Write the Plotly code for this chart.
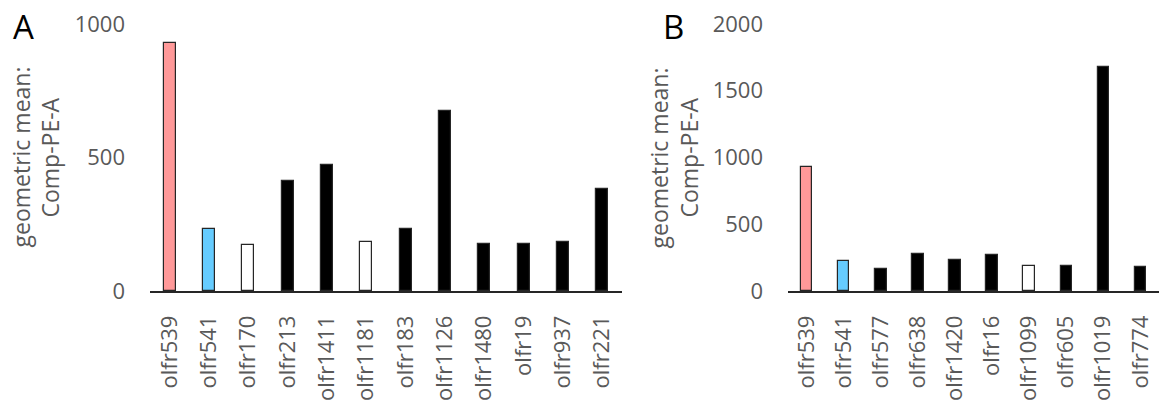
import plotly.graph_objects as go

# Panel A
cats_a = ["olfr539", "olfr541", "olfr170", "olfr213", "olfr1411", "olfr1181",
          "olfr183", "olfr1126", "olfr1480", "olfr19", "olfr937", "olfr221"]
vals_a = [927, 231, 171, 413, 473, 183, 233, 675, 176, 176, 183, 383]
group_a = ["pos", "neg", "open", "filled", "filled", "open",
           "filled", "filled", "filled", "filled", "filled", "filled"]
yticks_a = [0, 500, 1000]

# Panel B
cats_b = ["olfr539", "olfr541", "olfr577", "olfr638", "olfr1420", "olfr16",
          "olfr1099", "olfr605", "olfr1019", "olfr774"]
vals_b = [930, 228, 165, 275, 230, 273, 188, 190, 1678, 183]
group_b = ["pos", "neg", "filled", "filled", "filled", "filled",
           "open", "filled", "filled", "filled"]
yticks_b = [0, 500, 1000, 1500, 2000]

FILL = {"pos": "#FF9999", "neg": "#66CCFF", "open": "#FFFFFF", "filled": "#000000"}
EDGE = "#262626"
GRAY = "#595959"
FONT = "Open Sans"
W, H = 1159, 402

fig = go.Figure()
fig.add_trace(go.Bar(x=cats_a, y=vals_a, width=0.31,
                     marker=dict(color=[FILL[g] for g in group_a],
                                 line=dict(color=EDGE, width=1.2)),
                     xaxis="x", yaxis="y", showlegend=False))
fig.add_trace(go.Bar(x=cats_b, y=vals_b, width=0.31,
                     marker=dict(color=[FILL[g] for g in group_b],
                                 line=dict(color=EDGE, width=1.2)),
                     xaxis="x2", yaxis="y2", showlegend=False))

y_bottom = 1 - 291 / H
y_top = 1 - 24 / H

xcommon = dict(type="category", showline=True, linecolor=EDGE, linewidth=1.5,
               showgrid=False, ticks="", tickangle=-90, ticklabelstandoff=14,
               automargin=False,
               tickfont=dict(family=FONT, size=22, color=GRAY), zeroline=False)
ycommon = dict(showline=False, showgrid=False, zeroline=False, ticks="",
               ticklabelstandoff=24, automargin=False,
               tickfont=dict(family=FONT, size=22, color=GRAY))

fig.update_layout(
    width=W, height=H,
    margin=dict(l=0, r=0, t=0, b=0, autoexpand=False),
    paper_bgcolor="white", plot_bgcolor="white",
    bargap=0,
    xaxis=dict(domain=[150 / W, 622 / W], anchor="y",
               range=[-0.5, len(cats_a) - 0.5], **xcommon),
    yaxis=dict(domain=[y_bottom, y_top], anchor="x", range=[0, 1000],
               tickvals=yticks_a, **ycommon),
    xaxis2=dict(domain=[788 / W, 1.0], anchor="y2",
                range=[-0.5, len(cats_b) - 0.5], **xcommon),
    yaxis2=dict(domain=[y_bottom, y_top], anchor="x2", range=[0, 2000],
                tickvals=yticks_b, **ycommon),
)

ymid = (y_bottom + y_top) / 2
for x0, letter in [(11, "A"), (661, "B")]:
    fig.add_annotation(text=letter, x=x0 / W, y=1 - 26 / H, xref="paper", yref="paper",
                       xanchor="left", yanchor="middle", showarrow=False,
                       font=dict(family=FONT, size=33, color="black"))

for xc in [(20, 49), (658, 688)]:
    for xpos, line in zip(xc, ["geometric mean:", "Comp-PE-A"]):
        fig.add_annotation(text=line, x=xpos / W, y=ymid, xref="paper", yref="paper",
                           xanchor="center", yanchor="middle", textangle=-90,
                           showarrow=False,
                           font=dict(family=FONT, size=23, color=GRAY))

fig.write_html("out.html")
